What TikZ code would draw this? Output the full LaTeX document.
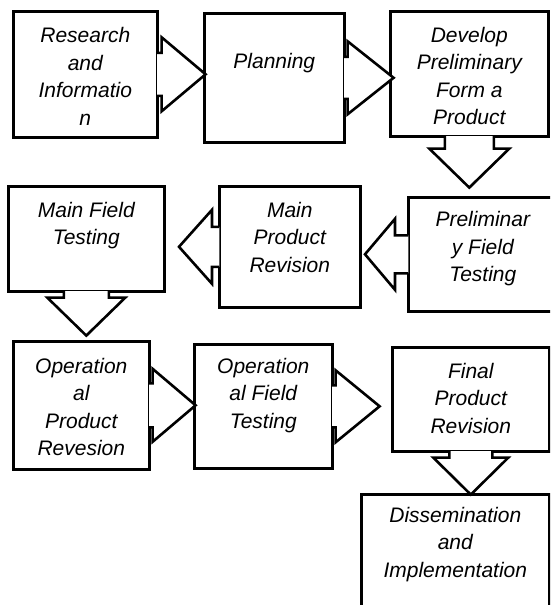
\documentclass[tikz,border=0pt]{standalone}
\usepackage{fontspec}
\setmainfont{Liberation Sans}
\usetikzlibrary{positioning,calc}
\tikzset{%
  stage/.style={
    draw,
    line width=2.6pt,
    inner sep=0pt,
    anchor=north west
  },
  stage text/.style={
    font=\fontsize{21}{27.5}\selectfont\itshape,
    align=center,
    inner sep=0pt
  },
  callout head/.style={
    draw,
    fill=white,
    line width=2.6pt,
    line join=miter
  },
}
% #1 anchor, #2 angle, #3 half shaft, #4 gap, #5 half head, #6 length
\newcommand{\callouthead}[6]{%
  \begin{scope}[shift={(#1)},rotate=#2]
    \filldraw[callout head] (-1.4,-#3) -- (#4,-#3) -- (#4,-#5) -- (#4+#6,0)
      -- (#4,#5) -- (#4,#3) -- (-1.4,#3);
  \end{scope}}

\begin{document}
\begin{tikzpicture}[x=1pt,y=-1pt]
  \useasboundingbox (0,0) rectangle (550,605);
  \clip (0,0) rectangle (550,605);

  \node[stage, minimum width=144pt, minimum height=126pt] (research) at (12,10) {};
  \node[stage, minimum width=140pt, minimum height=129pt] (planning) at (203,12) {};
  \node[stage, minimum width=158pt, minimum height=125pt] (develop) at (389,10) {};
  \node[stage, minimum width=149pt, minimum height=114pt] (prelim) at (407,196) {};
  \node[stage, minimum width=141pt, minimum height=121pt] (mainrev) at (218,185) {};
  \node[stage, minimum width=156pt, minimum height=105pt] (mainfield) at (7,185) {};
  \node[stage, minimum width=136pt, minimum height=128pt] (oprev) at (12,340) {};
  \node[stage, minimum width=138pt, minimum height=124pt] (opfield) at (193,343) {};
  \node[stage, minimum width=157pt, minimum height=104pt] (finalrev) at (391,346) {};
  \node[stage, minimum width=188pt, minimum height=127pt] (dissem) at (360,493) {};

  \callouthead{research.east}{0}{21.5}{3}{37}{44}
  \callouthead{planning.east}{0}{21}{2}{36.5}{46}
  \callouthead{develop.south}{-90}{24.5}{11}{40}{39}
  \callouthead{prelim.west}{180}{19}{12}{35.5}{30}
  \callouthead{mainrev.west}{180}{20}{6}{37}{33}
  \callouthead{mainfield.south}{-90}{22.5}{5}{39}{38}
  \callouthead{oprev.east}{0}{22}{2}{36.5}{43}
  \callouthead{opfield.east}{0}{21}{2}{36}{44}
  \callouthead{finalrev.south}{-90}{21.5}{5}{37.5}{37}

  \node[stage text, below=13.5pt of research.north] (research-text) {\strut Research\\and\\Informatio\\n};
  \node[stage text, below=36.75pt of planning.north] (planning-text) {\strut Planning};
  \node[stage text, below=12.75pt of develop.north] (develop-text) {\strut Develop\\Preliminary\\Form a\\Product};
  \node[stage text, below=11.5pt of prelim.north] (prelim-text) {\strut Preliminar\\y Field\\Testing};
  \node[stage text, below=12.75pt of mainrev.north] (mainrev-text) {\strut Main\\Product\\Revision};
  \node[stage text, below=12.75pt of mainfield.north] (mainfield-text) {\strut Main Field\\Testing};
  \node[stage text, below=13.75pt of oprev.north] (oprev-text) {\strut Operation\\al\\Product\\Revesion};
  \node[stage text, below=10.75pt of opfield.north] (opfield-text) {\strut Operation\\al Field\\Testing};
  \node[stage text, below=12.75pt of finalrev.north] (finalrev-text) {\strut Final\\Product\\Revision};
  \node[stage text, below=9.75pt of dissem.north] (dissem-text) {\strut Dissemination\\and\\Implementation};
\end{tikzpicture}
\end{document}
